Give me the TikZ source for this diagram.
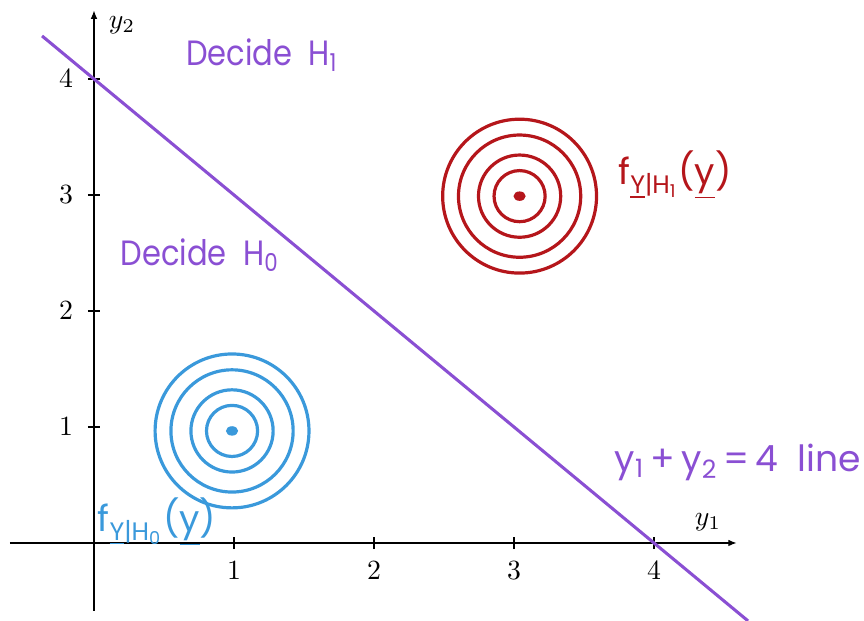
\documentclass[tikz,border=0pt]{standalone}
\usepackage{fontspec}
\newfontfamily\hand{Poppins}
\usetikzlibrary{arrows.meta}
\definecolor{hpurple}{HTML}{8A4FD3}
\definecolor{hred}{HTML}{B5161B}
\definecolor{hblue}{HTML}{3A99DB}
\tikzset{
  axis/.style={line width=0.4pt,-{Latex[length=3pt,width=2.4pt]}},
  tick/.style={line width=0.4pt},
  ticklbl/.style={font=\normalsize},
  ring/.style={line width=1.15pt},
  handlbl/.style={font=\hand\fontsize{13}{15}\selectfont},
  decidelbl/.style={font=\hand\fontsize{11}{13}\selectfont, yscale=1.15},
  dline/.style={hpurple,line width=1.1pt}
}
\begin{document}
\begin{tikzpicture}[x=50.4pt,y=41.76pt]
\useasboundingbox (-0.6714,-0.6724) rectangle (5.5,4.681);
% axes
\coordinate (xs) at (-0.6,0);
\coordinate (xe) at (4.59,0);
\coordinate (ys) at (0,-0.586);
\coordinate (ye) at (0,4.59);
\draw[axis] (xs) -- (xe);
\draw[axis] (ys) -- (ye);
\foreach \i in {1,2,3,4}{
  \coordinate (xt\i a) at (\i,-0.052);
  \coordinate (xt\i b) at (\i,0.052);
  \draw[tick] (xt\i a) -- (xt\i b);
  \node[ticklbl] (xl\i) at (\i,-0.24) {$\i$};
  \coordinate (yt\i a) at (-0.043,\i);
  \coordinate (yt\i b) at (0.043,\i);
  \draw[tick] (yt\i a) -- (yt\i b);
  \node[ticklbl] (yl\i) at (-0.2,\i) {$\i$};
}
\node[ticklbl] (y1lbl) at (4.386,0.181) {$y_1$};
\node[ticklbl] (y2lbl) at (0.2,4.466) {$y_2$};
% decision line
\coordinate (la) at (-0.371,4.371);
\coordinate (lb) at (4.672,-0.672);
\draw[dline] (la) -- (lb);
% rings
\coordinate (c0) at (0.986,0.966);
\coordinate (c1) at (3.04,2.99);
\foreach \r in {27.7,22,14.8,9.2}{
  \draw[ring,hblue] (c0) circle[radius=\r pt];
  \draw[ring,hred] (c1) circle[radius=\r pt];
}
\fill[hblue] (c0) ellipse[x radius=2.2pt,y radius=1.7pt];
\fill[hred] (c1) ellipse[x radius=2.2pt,y radius=1.7pt];
% labels
\node[decidelbl,hpurple] (dh1) at (1.2,4.207) {Decide\ \ H\textsubscript{1}};
\node[decidelbl,hpurple] (dh0) at (0.757,2.483) {Decide\ \ H\textsubscript{0}};
\node[handlbl,hred] (f1) at (4.15,3.172) {f\textsubscript{\underline{Y}|H\textsubscript{1}}(\underline{y})};
\node[handlbl,hblue] (f0) at (0.45,0.181) {f\textsubscript{\underline{Y}|H\textsubscript{0}}(\underline{y})};
\node[handlbl,hpurple] (leq) at (4.6,0.698) {y\textsubscript{1}\,+\,y\textsubscript{2}\,=\,4\ \ line};
\end{tikzpicture}
\end{document}
